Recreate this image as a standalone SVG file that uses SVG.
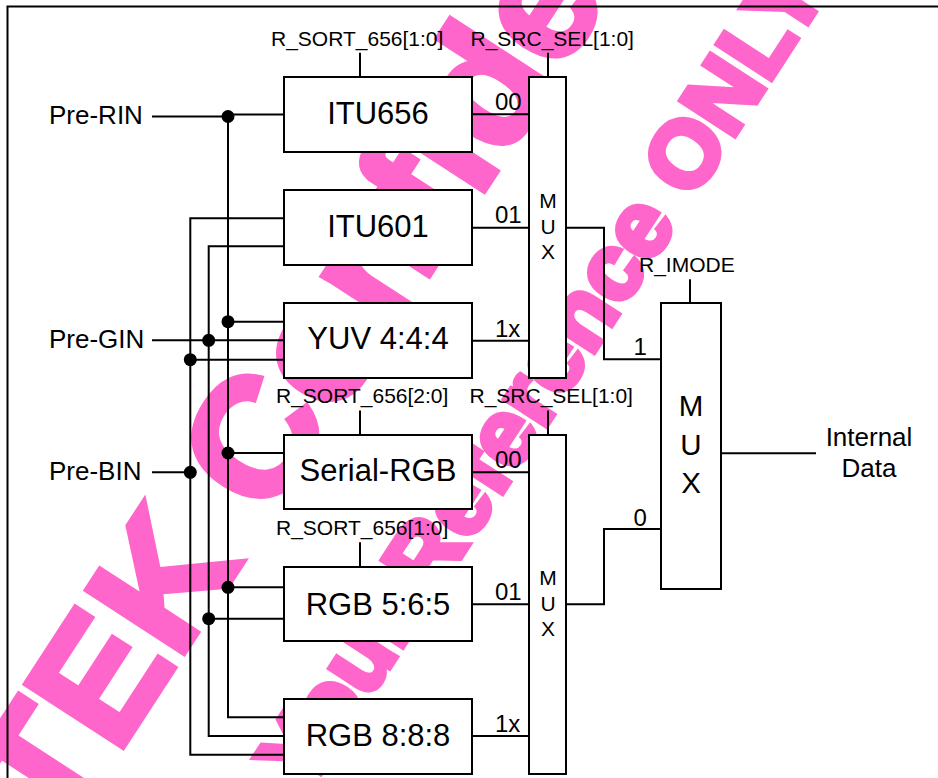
<svg xmlns="http://www.w3.org/2000/svg" width="938" height="778" viewBox="0 0 938 778">
<style>
text{font-family:"Liberation Sans",Arial,sans-serif;fill:#000}
.wm{fill:#FF66CC;font-weight:bold;stroke:#FF66CC;stroke-width:6;stroke-linejoin:miter}
.ln{fill:none;stroke:#000;stroke-width:2}
.box{fill:#fff;stroke:#000;stroke-width:2}
.dot{fill:#000}
.bl{font-size:31px;text-anchor:middle}
.in{font-size:26px}
.ctl{font-size:21px}
.sel{font-size:24px}
.mx{font-size:21px;text-anchor:middle}
.mx2{font-size:29.5px;text-anchor:middle}
</style>
<rect x="0" y="0" width="938" height="778" fill="#fff"/>
<g id="watermark">
<text class="wm" font-size="168" transform="translate(128,739) rotate(-57)" x="-652">MEDIATEK Confidential</text>
<text class="wm" font-size="93" transform="translate(226.5,917.8) rotate(-57)">for Your Reference ONLY</text>
</g>
<path class="ln" d="M7.5,778 V6.5 H938"/>
<g id="connectors">
<path class="ln" d="M152,116.5 H228 M228,114.5 H284"/>
<path class="ln" d="M228,116.5 V717.3 H284"/>
<path class="ln" d="M284,246.3 H208.7 V736 H284"/>
<path class="ln" d="M284,218.3 H190.3 V754.7 H284"/>
<path class="ln" d="M152,340.3 H284"/>
<path class="ln" d="M152,472.3 H190.3"/>
<path class="ln" d="M228,321.7 H284 M190.3,359.7 H284 M228,453 H284 M228,587.3 H284 M208.7,618.7 H284"/>
<path class="ln" d="M472,114.3 H529 M472,227.7 H529 M472,340.7 H529 M472,472.3 H529 M472,604.3 H529 M472,736 H529"/>
<path class="ln" d="M566,227.7 H604 V359.3 H661"/>
<path class="ln" d="M566,604.3 H604 V529 H661"/>
<path class="ln" d="M721,453.3 H816"/>
<path class="ln" d="M360,52.7 V77 M548,52.7 V77 M360,410.5 V435 M548,410.5 V435 M360,542.3 V567 M690,279.3 V303"/>
<circle class="dot" cx="228" cy="116.5" r="6.5"/>
<circle class="dot" cx="228" cy="321.7" r="6.5"/>
<circle class="dot" cx="208.7" cy="340.3" r="6.5"/>
<circle class="dot" cx="190.3" cy="359.7" r="6.5"/>
<circle class="dot" cx="190.3" cy="472.3" r="6.5"/>
<circle class="dot" cx="228" cy="453" r="6.5"/>
<circle class="dot" cx="228" cy="587.3" r="6.5"/>
<circle class="dot" cx="208.7" cy="618.7" r="6.5"/>
</g>
<g id="inputs">
<text class="in" x="49" y="124">Pre-RIN</text>
<text class="in" x="49" y="348.3">Pre-GIN</text>
<text class="in" x="49" y="479.7">Pre-BIN</text>
</g>
<g id="itu656"><rect class="box" x="284" y="77" width="188" height="75"/><text class="bl" x="378" y="124">ITU656</text>
<text class="ctl" x="271" y="45.7">R_SORT_656[1:0]</text></g>
<g id="itu601"><rect class="box" x="284" y="190" width="188" height="75"/><text class="bl" x="378" y="237">ITU601</text></g>
<g id="yuv444"><rect class="box" x="284" y="303" width="188" height="75"/><text class="bl" x="378" y="349">YUV 4:4:4</text></g>
<g id="serialrgb"><rect class="box" x="284" y="435" width="188" height="74"/><text class="bl" x="378" y="481">Serial-RGB</text>
<text class="ctl" x="276" y="403.3">R_SORT_656[2:0]</text></g>
<g id="rgb565"><rect class="box" x="284" y="567" width="188" height="74"/><text class="bl" x="378" y="614.5">RGB 5:6:5</text>
<text class="ctl" x="276" y="535">R_SORT_656[1:0]</text></g>
<g id="rgb888"><rect class="box" x="284" y="699" width="188" height="75"/><text class="bl" x="378" y="746">RGB 8:8:8</text></g>
<g id="mux1"><rect class="box" x="529" y="77" width="37" height="301"/>
<text class="mx" x="548" y="208">M</text><text class="mx" x="548" y="234">U</text><text class="mx" x="548" y="259">X</text>
<text class="ctl" x="470.5" y="45.7">R_SRC_SEL[1:0]</text>
<text class="sel" x="495" y="110">00</text><text class="sel" x="495" y="222.7">01</text><text class="sel" x="495" y="336.7">1x</text></g>
<g id="mux3"><rect class="box" x="529" y="435" width="37" height="339"/>
<text class="mx" x="548" y="585">M</text><text class="mx" x="548" y="611">U</text><text class="mx" x="548" y="635.5">X</text>
<text class="ctl" x="469.5" y="403">R_SRC_SEL[1:0]</text>
<text class="sel" x="495" y="468">00</text><text class="sel" x="495" y="600">01</text><text class="sel" x="495" y="732">1x</text></g>
<g id="mux2"><rect class="box" x="661" y="303" width="60" height="286"/>
<text class="mx2" x="691" y="416">M</text><text class="mx2" x="691" y="455">U</text><text class="mx2" x="691" y="493">X</text>
<text class="ctl" x="639" y="271.7">R_IMODE</text>
<text class="sel" x="633.5" y="355">1</text><text class="sel" x="633.5" y="525.7">0</text></g>
<g id="output"><text class="in" x="869" y="445.7" text-anchor="middle">Internal</text><text class="in" x="869" y="477.3" text-anchor="middle">Data</text></g>
</svg>
